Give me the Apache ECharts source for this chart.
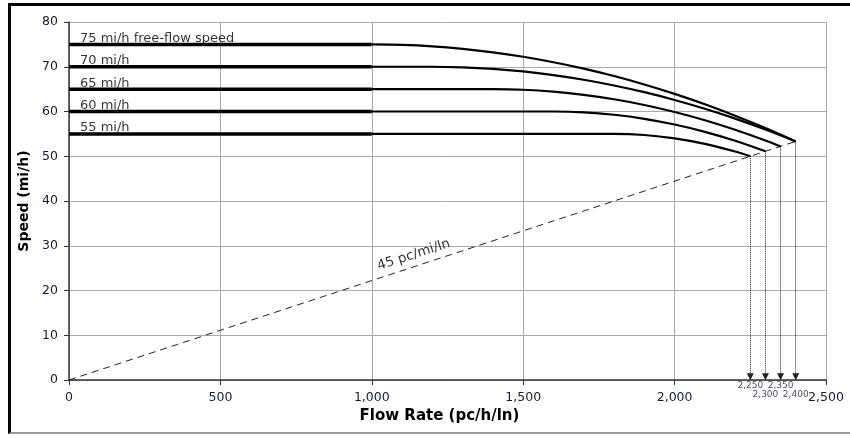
<!DOCTYPE html>
<html>
<head>
<meta charset="utf-8">
<script src="https://cdn.jsdelivr.net/npm/echarts@6/dist/echarts.min.js"></script>
<style>
  html, body { margin: 0; padding: 0; background: #fff; }
  #wrap { position: relative; width: 850px; height: 438px; }
  #myChart { position: absolute; left: 0; top: 0; width: 850px; height: 438px; }
  #frame { position: absolute; left: 8px; top: 3px; width: 842px; height: 431px;
           border-top: 3px solid #000; border-left: 3px solid #000; border-bottom: 2px solid #999;
           box-sizing: border-box; pointer-events: none; }
</style>
</head>
<body>
<div id="wrap">
  <div id="myChart"></div>
  <div id="frame"></div>
</div>
<script>
// 自由流速度 (mi/h) 与标签
var ffsList = [75, 70, 65, 60, 55];
var ffsLabels = ['75 mi/h free-flow speed', '70 mi/h', '65 mi/h', '60 mi/h', '55 mi/h'];

// 各曲线 1000 pc/h/ln 之后的部分 [flow, speed]
var curve75 = [[1000, 75], [1100, 74.89], [1200, 74.56], [1300, 74.0], [1400, 73.23], [1500, 72.23],
  [1600, 71.01], [1700, 69.58], [1800, 67.92], [1900, 66.03], [2000, 63.93], [2100, 61.61],
  [2200, 59.06], [2300, 56.29], [2400, 53.3]];
var curve70 = [[1000, 70], [1200, 70], [1300, 69.88], [1400, 69.54], [1500, 68.96], [1600, 68.14],
  [1700, 67.1], [1800, 65.82], [1900, 64.32], [2000, 62.58], [2100, 60.6], [2200, 58.4],
  [2300, 55.96], [2400, 53.3]];
var curve65 = [[1000, 65], [1400, 65], [1500, 64.86], [1600, 64.43], [1700, 63.72], [1800, 62.73],
  [1900, 61.46], [2000, 59.9], [2100, 58.05], [2200, 55.92], [2300, 53.51], [2350, 52.2]];
var curve60 = [[1000, 60], [1600, 60], [1700, 59.82], [1800, 59.27], [1900, 58.37], [2000, 57.09],
  [2100, 55.46], [2200, 53.46], [2300, 51.1]];
var curve55 = [[1000, 55], [1800, 55], [1900, 54.75], [2000, 54.01], [2100, 52.78], [2200, 51.05],
  [2250, 50.0]];

// 45 pc/mi/ln 密度线
var densityLine = [[0, 0], [2400, 53.33]];
var densityLabelAt = [1150, 25.6];

// 通行能力
var capFlow = [2250, 2300, 2350, 2400];
var capSpeed = [50.0, 51.1, 52.2, 53.3];
var capLabels = ['2,250', '2,300', '2,350', '2,400'];
var arrowTip = 0.7;

var xTicks = [0, 500, 1000, 1500, 2000, 2500];

var FONT = 'DejaVu Sans';
var curves = [curve75, curve70, curve65, curve60, curve55];

var series = [];
ffsList.forEach(function (s, i) {
  series.push({
    type: 'line', data: [[0, s], [1000, s]], symbol: 'none', silent: true,
    lineStyle: { color: '#000', width: 3.5 }, z: 5
  });
  series.push({
    type: 'line', data: curves[i], symbol: 'none', smooth: 0.3, silent: true,
    lineStyle: { color: '#000', width: 2.2 }, z: 5
  });
});

series.push({
  type: 'line', data: densityLine, symbol: 'none', silent: true,
  lineStyle: { color: '#222', width: 1, type: [7, 5] }, z: 4
});

series.push({
  type: 'line', data: [], symbol: 'none', silent: true,
  markLine: {
    silent: true,
    symbol: ['none', 'triangle'],
    symbolSize: [7, 7],
    label: { show: false },
    lineStyle: { color: '#222', width: 1, type: 'dotted' },
    data: capFlow.map(function (f, i) {
      return [{ coord: [f, capSpeed[i]] }, { coord: [f, arrowTip] }];
    })
  }
});

// 曲线标签
series.push({
  type: 'scatter', symbolSize: 0, silent: true, z: 6,
  data: ffsList.map(function (s, i) { return { value: [0, s], name: ffsLabels[i] }; }),
  label: {
    show: true, position: 'right', distance: 0, offset: [11, -6],
    formatter: '{b}', color: '#000', fontFamily: FONT, fontSize: 13
  }
});

series.push({
  type: 'scatter', symbolSize: 0, silent: true, z: 6,
  data: [{ value: densityLabelAt, name: '45 pc/mi/ln' }],
  label: {
    show: true, position: 'inside', rotate: 18, offset: [0, -11],
    formatter: '{b}', color: '#000', fontFamily: FONT, fontSize: 13.5
  }
});

series.push({
  type: 'scatter', symbolSize: 0, silent: true, z: 6,
  data: capFlow.map(function (f, i) {
    return { value: [f, 0], name: capLabels[i], label: { distance: i % 2 === 0 ? 1 : 10 } };
  }),
  label: {
    show: true, position: 'bottom', formatter: '{b}',
    color: '#141a3a', fontFamily: FONT, fontSize: 9
  }
});

var myChart = echarts.init(document.getElementById('myChart'));
myChart.setOption({
  animation: false,
  grid: { left: 69, right: 24, top: 22, bottom: 58 },
  xAxis: {
    type: 'value', min: 0, max: 2500, interval: 500,
    name: 'Flow Rate (pc/h/ln)', nameLocation: 'middle', nameGap: 28,
    nameTextStyle: { fontFamily: FONT, fontSize: 15, fontWeight: 'bold', color: '#000', padding: [0, 16, 0, 0] },
    axisLine: { show: true, lineStyle: { color: '#333', width: 1.5 } },
    axisTick: { show: true, length: 5, lineStyle: { color: '#333' } },
    axisLabel: {
      margin: 11, fontFamily: FONT, fontSize: 12.5, color: '#141a3a',
      formatter: function (v) { return xTicks.indexOf(v) >= 0 ? v.toLocaleString('en-US') : ''; }
    },
    splitLine: { show: true, lineStyle: { color: '#aaa', width: 1 } }
  },
  yAxis: {
    type: 'value', min: 0, max: 80, interval: 10,
    name: 'Speed (mi/h)', nameLocation: 'middle', nameGap: 37, nameRotate: 90,
    nameTextStyle: { fontFamily: FONT, fontSize: 14, fontWeight: 'bold', color: '#000' },
    axisLine: { show: true, lineStyle: { color: '#333', width: 1.5 } },
    axisTick: { show: true, length: 5, lineStyle: { color: '#333' } },
    axisLabel: { margin: 11, fontFamily: FONT, fontSize: 12.5, color: '#141a3a' },
    splitLine: { show: true, lineStyle: { color: '#aaa', width: 1 } }
  },
  series: series
});
</script>
</body>
</html>
